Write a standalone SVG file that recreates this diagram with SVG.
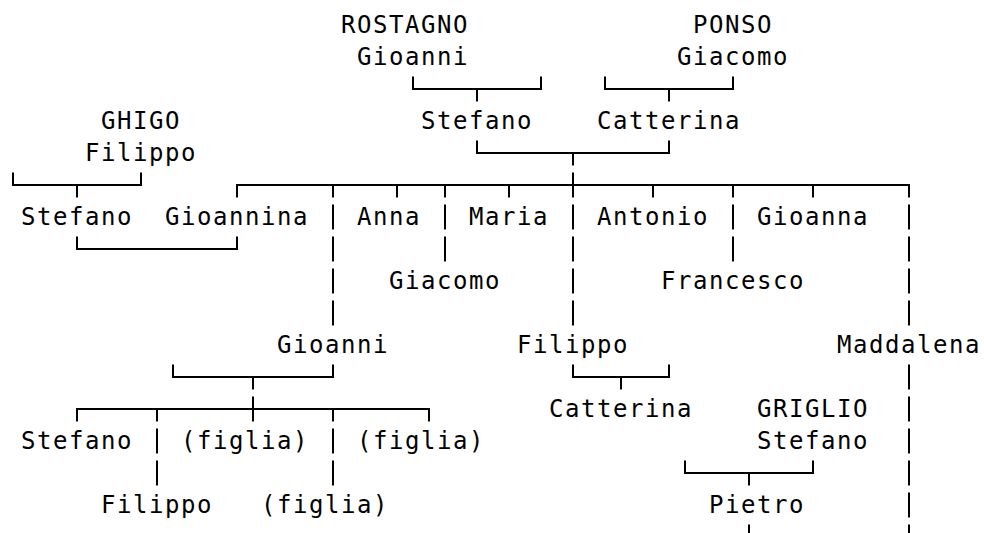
<svg xmlns="http://www.w3.org/2000/svg" width="984" height="533" viewBox="0 0 984 533">
<style>
.t{font-family:"DejaVu Sans Mono","Liberation Mono",monospace;font-size:24px;letter-spacing:1.55px;fill:#000}
.c{stroke:#000;stroke-width:2;fill:none}
</style>
<rect width="984" height="533" fill="#fff"/>
<g id="connectors" class="c">
<path d="M413 76.5V89H541V76.5M477 89V101.5"/>
<path d="M605 76.5V89H733V76.5M669 89V101.5"/>
<path d="M477 140.5V153H669V140.5M573 153V165.5"/>
<path d="M13 172.5V185H141V172.5M77 185V197.5"/>
<path d="M237 197.5V185H909V197.5M333 185V197.5M397 185V197.5M445 185V197.5M509 185V197.5M573 172.5V197.5M653 185V197.5M733 185V197.5M813 185V197.5"/>
<path d="M333 204.5V229.5M445 204.5V229.5M573 204.5V229.5M733 204.5V229.5M909 204.5V229.5"/>
<path d="M77 236.5V249H237V236.5"/>
<path d="M333 236.5V261.5M445 236.5V261.5M573 236.5V261.5M733 236.5V261.5M909 236.5V261.5"/>
<path d="M333 268.5V293.5M573 268.5V293.5M909 268.5V293.5"/>
<path d="M333 300.5V325.5M573 300.5V325.5M909 300.5V325.5"/>
<path d="M173 364.5V377H333V364.5M253 377V389.5"/>
<path d="M573 364.5V377H669V364.5M621 377V389.5"/>
<path d="M909 364.5V389.5"/>
<path d="M77 421.5V409H429V421.5M157 409V421.5M253 396.5V421.5M333 409V421.5"/>
<path d="M909 396.5V421.5"/>
<path d="M157 428.5V453.5M333 428.5V453.5M909 428.5V453.5"/>
<path d="M157 460.5V485.5M333 460.5V485.5M909 460.5V485.5"/>
<path d="M685 460.5V473H813V460.5M749 473V485.5"/>
<path d="M909 492.5V517.5"/>
<path d="M749 524.5V549.5M909 524.5V549.5"/>
</g>
<g id="rostagno-gioanni"><text class="t" x="341" y="32.5">ROSTAGNO</text><text class="t" x="357" y="64.5">Gioanni</text></g>
<g id="ponso-giacomo"><text class="t" x="693" y="32.5">PONSO</text><text class="t" x="677" y="64.5">Giacomo</text></g>
<g id="ghigo-filippo"><text class="t" x="101" y="128.5">GHIGO</text><text class="t" x="85" y="160.5">Filippo</text></g>
<g id="stefano-1"><text class="t" x="421" y="128.5">Stefano</text></g>
<g id="catterina-1"><text class="t" x="597" y="128.5">Catterina</text></g>
<g id="stefano-2"><text class="t" x="21" y="224.5">Stefano</text></g>
<g id="gioannina"><text class="t" x="165" y="224.5">Gioannina</text></g>
<g id="anna"><text class="t" x="357" y="224.5">Anna</text></g>
<g id="maria"><text class="t" x="469" y="224.5">Maria</text></g>
<g id="antonio"><text class="t" x="597" y="224.5">Antonio</text></g>
<g id="gioanna"><text class="t" x="757" y="224.5">Gioanna</text></g>
<g id="giacomo"><text class="t" x="389" y="288.5">Giacomo</text></g>
<g id="francesco"><text class="t" x="661" y="288.5">Francesco</text></g>
<g id="gioanni"><text class="t" x="277" y="352.5">Gioanni</text></g>
<g id="filippo-1"><text class="t" x="517" y="352.5">Filippo</text></g>
<g id="maddalena"><text class="t" x="837" y="352.5">Maddalena</text></g>
<g id="catterina-2"><text class="t" x="549" y="416.5">Catterina</text></g>
<g id="griglio-stefano"><text class="t" x="757" y="416.5">GRIGLIO</text><text class="t" x="757" y="448.5">Stefano</text></g>
<g id="stefano-3"><text class="t" x="21" y="448.5">Stefano</text></g>
<g id="figlia-1"><text class="t" x="181" y="448.5">(figlia)</text></g>
<g id="figlia-2"><text class="t" x="357" y="448.5">(figlia)</text></g>
<g id="filippo-2"><text class="t" x="101" y="512.5">Filippo</text></g>
<g id="figlia-3"><text class="t" x="261" y="512.5">(figlia)</text></g>
<g id="pietro"><text class="t" x="709" y="512.5">Pietro</text></g>
</svg>
